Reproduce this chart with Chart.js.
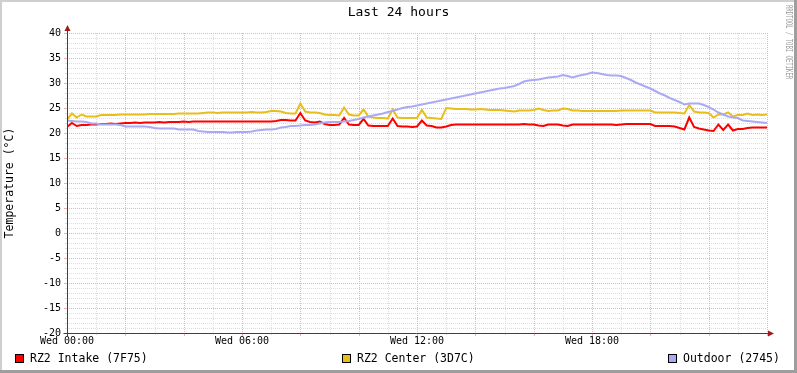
<!DOCTYPE html>
<html>
<head>
<meta charset="utf-8">
<script src="https://cdn.jsdelivr.net/npm/chart.js@4.4.1/dist/chart.umd.min.js"></script>
<style>
    html, body { margin: 0; padding: 0; background: #fff; }
    canvas { display: block; }
</style>
</head>
<body>
<canvas id="tempChart" width="797" height="373"></canvas>
<script>
const chartTitle = 'Last 24 hours';
const yAxisTitle = 'Temperature (°C)';
const xTickLabels = ['Wed 00:00', 'Wed 06:00', 'Wed 12:00', 'Wed 18:00'];
const seriesNames = ['RZ2 Intake (7F75)', 'RZ2 Center (3D7C)', 'Outdoor (2745)'];
const sampleMinutes = 10; // one reading every 10 minutes, 00:00 .. 24:00

const intakeTemps = [
    21.2, 22.0, 21.4, 21.6, 21.6, 21.7, 21.7, 21.8, 21.8, 21.9,
    21.8, 21.9, 22.0, 22.0, 22.1, 22.0, 22.1, 22.1, 22.1, 22.2,
    22.1, 22.2, 22.2, 22.2, 22.3, 22.2, 22.3, 22.3, 22.3, 22.3,
    22.3, 22.3, 22.3, 22.3, 22.3, 22.3, 22.3, 22.3, 22.3, 22.3,
    22.3, 22.3, 22.3, 22.4, 22.6, 22.6, 22.5, 22.5, 24.0, 22.5,
    22.2, 22.1, 22.3, 21.8, 21.6, 21.6, 21.7, 23.0, 21.7, 21.6,
    21.6, 22.8, 21.5, 21.4, 21.4, 21.4, 21.4, 22.9, 21.4, 21.3,
    21.3, 21.2, 21.3, 22.5, 21.5, 21.4, 21.1, 21.1, 21.3, 21.6,
    21.7, 21.7, 21.7, 21.7, 21.7, 21.7, 21.7, 21.7, 21.7, 21.7,
    21.7, 21.7, 21.7, 21.7, 21.8, 21.7, 21.7, 21.5, 21.4, 21.7,
    21.7, 21.7, 21.5, 21.4, 21.7, 21.7, 21.7, 21.7, 21.7, 21.7,
    21.7, 21.7, 21.7, 21.6, 21.7, 21.8, 21.8, 21.8, 21.8, 21.8,
    21.8, 21.4, 21.4, 21.4, 21.4, 21.3, 21.0, 20.7, 23.1, 21.2,
    20.9, 20.7, 20.5, 20.4, 21.7, 20.6, 21.7, 20.5, 20.8, 20.8,
    21.0, 21.1, 21.1, 21.1, 21.1
];
const centerTemps = [
    22.7, 23.9, 23.1, 23.7, 23.3, 23.3, 23.3, 23.6, 23.6, 23.6,
    23.6, 23.7, 23.7, 23.7, 23.7, 23.7, 23.7, 23.8, 23.8, 23.8,
    23.8, 23.8, 23.8, 23.9, 23.9, 23.9, 23.9, 23.9, 24.0, 24.1,
    24.1, 24.0, 24.1, 24.1, 24.1, 24.1, 24.1, 24.1, 24.2, 24.1,
    24.1, 24.2, 24.4, 24.4, 24.3, 24.0, 23.9, 23.9, 25.9, 24.3,
    24.1, 24.1, 24.0, 23.7, 23.6, 23.6, 23.5, 25.1, 23.7, 23.5,
    23.5, 24.7, 23.3, 23.1, 23.0, 23.0, 22.9, 24.7, 23.1, 23.0,
    23.0, 23.0, 23.0, 24.6, 23.1, 23.0, 22.9, 22.8, 25.0, 24.9,
    24.8, 24.8, 24.8, 24.7, 24.7, 24.8, 24.7, 24.6, 24.6, 24.6,
    24.5, 24.4, 24.3, 24.5, 24.5, 24.5, 24.6, 24.9, 24.6, 24.4,
    24.5, 24.5, 24.9, 24.8, 24.5, 24.5, 24.4, 24.4, 24.4, 24.4,
    24.4, 24.4, 24.4, 24.4, 24.5, 24.5, 24.5, 24.5, 24.5, 24.5,
    24.5, 24.1, 24.1, 24.1, 24.1, 24.1, 24.0, 23.9, 25.6, 24.3,
    24.1, 24.1, 24.0, 23.1, 23.7, 23.7, 24.1, 23.3, 23.6, 23.6,
    23.9, 23.6, 23.7, 23.6, 23.7
];
const outdoorTemps = [
    22.5, 22.4, 22.3, 22.3, 22.2, 21.9, 21.9, 21.7, 21.7, 21.7,
    21.7, 21.6, 21.3, 21.3, 21.3, 21.3, 21.3, 21.2, 21.0, 20.9,
    20.9, 20.9, 20.9, 20.7, 20.7, 20.7, 20.7, 20.4, 20.3, 20.2,
    20.2, 20.2, 20.2, 20.1, 20.1, 20.2, 20.2, 20.2, 20.3, 20.5,
    20.6, 20.7, 20.7, 20.8, 21.1, 21.2, 21.4, 21.4, 21.5, 21.6,
    21.6, 21.7, 21.9, 22.1, 22.2, 22.2, 22.2, 22.3, 22.4, 22.6,
    22.8, 23.1, 23.3, 23.5, 23.7, 23.9, 24.2, 24.4, 24.7, 25.0,
    25.2, 25.3, 25.5, 25.7, 25.9, 26.1, 26.3, 26.5, 26.7, 26.9,
    27.1, 27.3, 27.5, 27.7, 27.9, 28.1, 28.3, 28.5, 28.7, 28.9,
    29.0, 29.2, 29.4, 29.8, 30.3, 30.5, 30.6, 30.7, 30.9, 31.1,
    31.2, 31.3, 31.6, 31.4, 31.1, 31.4, 31.6, 31.8, 32.1, 32.0,
    31.8, 31.6, 31.5, 31.5, 31.4, 31.0, 30.6, 30.1, 29.7, 29.3,
    28.9, 28.4, 27.9, 27.5, 27.0, 26.6, 26.2, 25.7, 25.9, 25.9,
    25.9, 25.6, 25.2, 24.7, 24.1, 23.7, 23.3, 23.1, 23.0, 22.5,
    22.4, 22.3, 22.2, 22.1, 22.0
];

const intakeColor = '#FF0000';
const centerColor = '#E8BE1C';
const outdoorColor = '#AAAAF4';
const monoFont = '"DejaVu Sans Mono", monospace';

const minorGridColor = '#DDDDDD';
const majorGridColor = '#EFB0B0';
const axisColor = '#404040';
const arrowColor = '#A01A1A';

function toPoints(values) {
    // x in hours since midnight
    return values.map((v, i) => ({ x: i * sampleMinutes / 60, y: v }));
}

// rrdtool look: dotted grid, ticks, arrows, title, legend, watermark
const rrdPlugin = {
    id: 'rrdDecor',
    beforeDraw(chart) {
        const { ctx, width, height } = chart;
        ctx.save();
        ctx.fillStyle = '#FFFFFF';
        ctx.fillRect(0, 0, width, height);
        // 3d frame
        ctx.fillStyle = '#CFCFCF';
        ctx.fillRect(0, 0, width, 2);
        ctx.fillRect(0, 0, 2, height);
        ctx.fillStyle = '#9E9E9E';
        ctx.fillRect(0, height - 3, width, 3);
        ctx.fillRect(width - 3, 0, 3, height);
        ctx.restore();
    },
    beforeDatasetsDraw(chart) {
        const { ctx, chartArea: a, scales: { x, y } } = chart;
        ctx.save();
        ctx.lineWidth = 1;

        const drawSet = (major) => {
            ctx.strokeStyle = major ? majorGridColor : minorGridColor;
            ctx.setLineDash([1, 1]);
            for (let h = 0; h <= 24; h++) {
                if ((h % 2 === 0) !== major || h === 0) continue;
                const px = Math.round(x.getPixelForValue(h)) + 0.5;
                ctx.beginPath();
                ctx.moveTo(px, a.top);
                ctx.lineTo(px, a.bottom);
                ctx.stroke();
            }
            for (let v = -20; v <= 40; v++) {
                if ((v % 5 === 0) !== major || v === -20) continue;
                const py = Math.round(y.getPixelForValue(v)) + 0.5;
                ctx.beginPath();
                ctx.moveTo(a.left, py);
                ctx.lineTo(a.right, py);
                ctx.stroke();
            }
            // small solid ticks outside the plot
            ctx.setLineDash([]);
            const len = major ? 3 : 2;
            for (let h = 1; h <= 24; h++) {
                if ((h % 2 === 0) !== major) continue;
                const px = Math.round(x.getPixelForValue(h)) + 0.5;
                ctx.beginPath();
                ctx.moveTo(px, a.bottom);
                ctx.lineTo(px, a.bottom + len);
                ctx.stroke();
            }
            for (let v = -19; v <= 40; v++) {
                if ((v % 5 === 0) !== major) continue;
                const py = Math.round(y.getPixelForValue(v)) + 0.5;
                ctx.beginPath();
                ctx.moveTo(a.left - len, py);
                ctx.lineTo(a.left, py);
                ctx.stroke();
            }
        };
        drawSet(false);
        drawSet(true);
        ctx.restore();
    },
    afterDatasetsDraw(chart) {
        const { ctx, chartArea: a, width } = chart;
        ctx.save();
        const ax = Math.round(a.left) + 0.5;
        const ay = Math.round(a.bottom) + 0.5;

        // axes
        ctx.strokeStyle = axisColor;
        ctx.lineWidth = 1;
        ctx.beginPath();
        ctx.moveTo(ax, ay + 3);
        ctx.lineTo(ax, a.top - 4);
        ctx.moveTo(ax - 4, ay);
        ctx.lineTo(a.right + 2, ay);
        ctx.stroke();

        // arrows
        ctx.fillStyle = arrowColor;
        ctx.beginPath();
        ctx.moveTo(ax, a.top - 8);
        ctx.lineTo(ax - 3, a.top - 2);
        ctx.lineTo(ax + 3, a.top - 2);
        ctx.closePath();
        ctx.fill();
        ctx.beginPath();
        ctx.moveTo(a.right + 7, ay);
        ctx.lineTo(a.right + 1, ay - 3);
        ctx.lineTo(a.right + 1, ay + 3);
        ctx.closePath();
        ctx.fill();

        // title
        ctx.fillStyle = '#000';
        ctx.font = '13px ' + monoFont;
        ctx.textAlign = 'center';
        ctx.textBaseline = 'middle';
        ctx.fillText(chartTitle, width / 2, 13);

        // legend
        const legendX = [15, 342, 668];
        const colors = [intakeColor, centerColor, outdoorColor];
        ctx.font = '11.5px ' + monoFont;
        ctx.textAlign = 'left';
        for (let i = 0; i < seriesNames.length; i++) {
            ctx.fillStyle = colors[i];
            ctx.fillRect(legendX[i], 354, 9, 9);
            ctx.strokeStyle = '#000';
            ctx.lineWidth = 1;
            ctx.strokeRect(legendX[i] + 0.5, 354.5, 8, 8);
            ctx.fillStyle = '#000';
            ctx.fillText(seriesNames[i], legendX[i] + 15, 359);
        }

        // watermark
        ctx.translate(788, 5);
        ctx.rotate(Math.PI / 2);
        ctx.scale(0.7, 1);
        ctx.font = '8px ' + monoFont;
        ctx.fillStyle = '#9A9A9A';
        ctx.textBaseline = 'middle';
        ctx.fillText('RRDTOOL / TOBI OETIKER', 0, 0);
        ctx.restore();
    }
};

const ctx = document.getElementById('tempChart').getContext('2d');
const tempChart = new Chart(ctx, {
    type: 'line',
    data: {
        datasets: [
            { label: seriesNames[0], data: toPoints(intakeTemps), borderColor: intakeColor, order: 3 },
            { label: seriesNames[1], data: toPoints(centerTemps), borderColor: centerColor, order: 2 },
            { label: seriesNames[2], data: toPoints(outdoorTemps), borderColor: outdoorColor, order: 1 }
        ]
    },
    options: {
        responsive: false,
        animation: false,
        layout: { padding: { top: 33, right: 30, bottom: 0, left: 0 } },
        elements: {
            point: { radius: 0 },
            line: { borderWidth: 2, tension: 0, fill: false }
        },
        plugins: {
            legend: { display: false },
            title: { display: false },
            tooltip: { enabled: false }
        },
        scales: {
            x: {
                type: 'linear',
                min: 0,
                max: 24,
                grid: { display: false, drawTicks: false },
                border: { display: false },
                ticks: {
                    stepSize: 6,
                    autoSkip: false,
                    maxRotation: 0,
                    padding: 2,
                    color: '#000',
                    font: { family: monoFont, size: 10 },
                    callback: (v) => xTickLabels[v / 6] || ''
                },
                afterFit: (scale) => { scale.height = 40; }
            },
            y: {
                min: -20,
                max: 40,
                grid: { display: false, drawTicks: false },
                border: { display: false },
                ticks: {
                    stepSize: 5,
                    padding: 6,
                    color: '#000',
                    font: { family: monoFont, size: 10 }
                },
                title: {
                    display: true,
                    text: yAxisTitle,
                    color: '#000',
                    padding: { top: 3, bottom: 0 },
                    font: { family: monoFont, size: 11.5 }
                },
                afterFit: (scale) => { scale.width = 67; }
            }
        }
    },
    plugins: [rrdPlugin]
});
</script>
</body>
</html>
